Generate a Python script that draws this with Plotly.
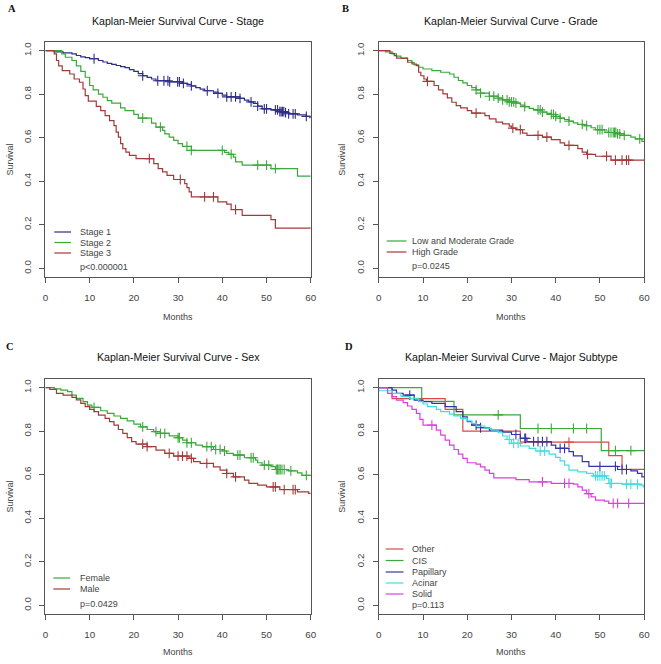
import numpy as np
import plotly.graph_objects as go

# ---------------- DATA ----------------
months_ticks = [0, 10, 20, 30, 40, 50, 60]
surv_ticks = [0.0, 0.2, 0.4, 0.6, 0.8, 1.0]
end_time = 60

# Panel A - Stage
stage1_t = [2, 4, 6, 7, 8, 9, 10, 12, 13, 14, 15, 16, 17, 18, 19, 20, 21, 22, 23, 24, 25, 28, 31, 32, 33, 34, 35, 36, 38, 39, 40, 41, 44, 45, 46, 47, 48, 49, 51, 53, 54, 55, 57, 59, 59.8]
stage1_s = [0.995, 0.99, 0.985, 0.978, 0.972, 0.968, 0.963, 0.955, 0.948, 0.942, 0.937, 0.932, 0.927, 0.922, 0.913, 0.905, 0.895, 0.885, 0.877, 0.87, 0.862, 0.857, 0.85, 0.845, 0.838, 0.83, 0.823, 0.816, 0.81, 0.804, 0.796, 0.788, 0.781, 0.773, 0.765, 0.758, 0.745, 0.733, 0.728, 0.72, 0.715, 0.71, 0.705, 0.698, 0.692]
stage1_c = [11, 22, 25.4, 26.8, 27.7, 28.1, 29.9, 30.3, 31.2, 33, 36.6, 39, 41, 42, 43, 44, 46.5, 48, 49.5, 50, 52, 52.5, 53, 53.3, 53.6, 53.9, 54.3, 55, 56, 56.5, 59]

stage2_t = [3.7, 4.5, 6, 7, 8, 9, 10, 10.8, 12, 13, 14, 15, 17, 18, 20, 21, 24, 25, 26.5, 27, 28, 29, 30, 31, 33, 40.5, 41.5, 42.5, 43, 44.5, 51, 57]
stage2_s = [0.985, 0.97, 0.955, 0.93, 0.905, 0.878, 0.84, 0.82, 0.8, 0.786, 0.771, 0.759, 0.737, 0.725, 0.707, 0.69, 0.667, 0.649, 0.634, 0.618, 0.603, 0.588, 0.573, 0.56, 0.542, 0.533, 0.524, 0.511, 0.489, 0.474, 0.458, 0.424]
stage2_c = [22, 26, 32, 33, 40, 42, 48, 50, 52]

stage3_t = [2, 2.5, 3, 3.8, 5.5, 6.5, 7.7, 8.5, 9, 9.7, 11.5, 12.5, 13.5, 14.5, 15.5, 16, 16.5, 17, 17.5, 18.2, 19, 20.5, 24.5, 25.5, 26.5, 27.5, 29, 31.5, 32, 32.5, 33, 39, 41, 42, 44.5, 51, 52]
stage3_s = [0.985, 0.955, 0.93, 0.908, 0.893, 0.87, 0.855, 0.824, 0.794, 0.768, 0.744, 0.725, 0.702, 0.679, 0.656, 0.626, 0.603, 0.573, 0.55, 0.534, 0.519, 0.504, 0.481, 0.458, 0.443, 0.427, 0.408, 0.389, 0.371, 0.351, 0.328, 0.305, 0.295, 0.27, 0.243, 0.224, 0.185]
stage3_c = [23.5, 30.5, 36, 38, 43]

# Panel B - Grade
lowmod_t = [1.5, 3, 4, 5, 6.5, 7.5, 8, 9, 10, 12, 14, 16, 17, 18, 19, 20, 21, 22, 23, 25, 27, 28, 29.5, 31, 32, 33, 34, 35, 37, 38, 39, 40, 41, 42, 43, 44, 45, 46.5, 48, 49, 51, 52, 54, 55.5, 57, 58, 59.5]
lowmod_s = [0.995, 0.985, 0.975, 0.965, 0.955, 0.945, 0.935, 0.924, 0.916, 0.908, 0.901, 0.893, 0.878, 0.863, 0.852, 0.84, 0.83, 0.82, 0.805, 0.791, 0.782, 0.774, 0.765, 0.759, 0.75, 0.743, 0.735, 0.728, 0.718, 0.712, 0.707, 0.698, 0.69, 0.683, 0.676, 0.668, 0.661, 0.655, 0.646, 0.637, 0.631, 0.624, 0.618, 0.611, 0.603, 0.595, 0.583]
lowmod_c = [22, 23, 25, 26, 27, 28, 29, 29.5, 30, 30.5, 31, 33, 36, 36.5, 37, 39, 39.5, 40, 41, 43, 46, 47, 49.5, 50, 50.5, 52, 52.5, 53, 53.3, 53.6, 54, 54.5, 55.5, 59]

high_t = [2.5, 3.5, 4, 6.5, 7.5, 8.5, 9, 9.5, 10.2, 10.8, 12.5, 13.5, 14.5, 15.5, 16.5, 17.5, 18.5, 20, 21, 24, 25, 26.5, 28, 29.5, 30, 31, 32.5, 33.5, 37, 39, 41, 42, 45, 46, 47, 49, 52.5]
high_s = [0.988, 0.977, 0.966, 0.947, 0.939, 0.931, 0.901, 0.885, 0.87, 0.859, 0.84, 0.82, 0.802, 0.783, 0.763, 0.748, 0.737, 0.725, 0.713, 0.702, 0.687, 0.672, 0.664, 0.653, 0.644, 0.637, 0.621, 0.611, 0.603, 0.591, 0.576, 0.565, 0.55, 0.534, 0.524, 0.515, 0.497]
high_c = [11, 22, 30.3, 32, 36, 38, 43, 47.2, 51.5, 53.5, 55, 56, 56.5]

# Panel C - Sex
female_t = [2, 3.5, 5, 6, 7, 8.5, 9.5, 10.5, 12.5, 14, 15.5, 17, 18.5, 20, 21.5, 23, 24.5, 26, 28, 30, 31, 32, 34, 35.5, 38, 40, 41, 42.5, 45, 47.5, 48, 49, 51, 52, 55, 57, 58]
female_s = [0.995, 0.989, 0.982, 0.966, 0.951, 0.936, 0.92, 0.91, 0.894, 0.882, 0.87, 0.859, 0.848, 0.833, 0.82, 0.808, 0.798, 0.79, 0.779, 0.77, 0.759, 0.747, 0.736, 0.729, 0.716, 0.709, 0.698, 0.69, 0.678, 0.667, 0.655, 0.644, 0.637, 0.624, 0.618, 0.609, 0.597]
female_c = [11, 22, 25, 26, 27, 30, 30.3, 32, 33, 36.5, 37.5, 38.5, 39.5, 40.5, 43.5, 44, 46.5, 47, 49.5, 50.5, 52.2, 52.5, 52.8, 53.1, 53.5, 54, 55.5, 59]

male_t = [1, 2.5, 4, 6, 7, 8, 9, 10, 11, 12, 13.5, 14.5, 15.5, 16.5, 17.5, 18.5, 19.5, 20.5, 23, 25, 27, 29, 32.5, 33.5, 35, 38, 39.5, 41, 42.5, 45, 46, 48, 50, 53, 57, 59.5]
male_s = [0.992, 0.974, 0.966, 0.956, 0.944, 0.928, 0.913, 0.9, 0.89, 0.874, 0.859, 0.844, 0.828, 0.808, 0.79, 0.771, 0.752, 0.741, 0.729, 0.713, 0.698, 0.686, 0.675, 0.66, 0.652, 0.636, 0.621, 0.606, 0.59, 0.575, 0.56, 0.552, 0.544, 0.532, 0.521, 0.514]
male_c = [22, 23, 28, 30, 31, 32, 33, 36.5, 41, 43, 51.5, 52, 54, 56, 56.5]

# Panel D - Major subtype
other_t = [3, 15, 19, 32, 52, 55]
other_s = [0.95, 0.9, 0.8, 0.75, 0.6875, 0.625]
other_c = [43]

cis_t = [9.7, 17, 32, 50.3]
cis_s = [0.9375, 0.875, 0.8125, 0.711]
cis_c = [27, 36, 39, 44, 47, 53.5, 57]

papillary_t = [3, 4, 5.5, 8, 10, 12, 15, 17.5, 19, 20, 21, 23, 25, 28, 30, 32, 33.5, 39, 40, 43, 44, 46, 47.5, 54, 57, 58.5, 59.5]
papillary_s = [0.989, 0.974, 0.966, 0.943, 0.936, 0.928, 0.913, 0.89, 0.866, 0.844, 0.828, 0.816, 0.805, 0.796, 0.785, 0.767, 0.752, 0.736, 0.721, 0.706, 0.687, 0.66, 0.638, 0.624, 0.618, 0.606, 0.59]
papillary_c = [7, 22, 23, 31, 33, 33.2, 35, 36, 37, 38, 41, 42, 50, 53.5, 55, 56]

acinar_t = [0, 3, 5, 7, 9, 10, 11, 13, 14, 16, 17, 18.5, 20, 21, 22, 24, 25.5, 27, 28, 29, 30, 32, 34, 35.5, 38.5, 40, 41, 42, 43, 45, 47, 48.5, 51.5, 52, 55, 59, 59.8]
acinar_s = [0.986, 0.974, 0.959, 0.951, 0.936, 0.925, 0.913, 0.9, 0.89, 0.879, 0.87, 0.859, 0.848, 0.836, 0.824, 0.813, 0.805, 0.793, 0.778, 0.762, 0.744, 0.732, 0.721, 0.709, 0.695, 0.68, 0.664, 0.644, 0.621, 0.613, 0.606, 0.595, 0.583, 0.56, 0.557, 0.552, 0.544]
acinar_c = [29.5, 30.5, 31.5, 36.5, 37.5, 49, 49.5, 50, 50.5, 51, 52.3, 52.6, 56, 57, 58.5]

solid_t = [2, 3, 4, 5.5, 6.5, 7.5, 8.5, 9.3, 10, 13, 14, 15, 16, 17, 18, 19, 20, 22, 23, 24, 25, 26, 31, 34, 39, 44, 45, 46, 47, 48, 49, 51, 52]
solid_s = [0.974, 0.959, 0.943, 0.931, 0.916, 0.9, 0.882, 0.854, 0.828, 0.805, 0.782, 0.759, 0.736, 0.716, 0.695, 0.675, 0.655, 0.649, 0.636, 0.621, 0.606, 0.586, 0.578, 0.567, 0.56, 0.557, 0.544, 0.529, 0.513, 0.498, 0.483, 0.479, 0.468]
solid_c = [12, 37, 42, 43, 47.5, 53, 54, 56.5]

titles = ["Kaplan-Meier Survival Curve - Stage", "Kaplan-Meier Survival Curve - Grade",
          "Kaplan-Meier Survival Curve - Sex", "Kaplan-Meier Survival Curve - Major Subtype"]
panel_letters = ["A", "B", "C", "D"]
p_values = ["p<0.000001", "p=0.0245", "p=0.0429", "p=0.113"]

# ---------------- STYLE ----------------
W, H = 661, 664
FONT = "Liberation Sans, Arial, sans-serif"
GREEN = "#3aa83a"
DARKRED = "#a33a3a"

panels = [
    dict(box=(43, 312, 42, 277), title_y=21, months_y=317, surv_x=7, letter=(9, 8),
         legend=dict(x0=52, x1=69, tx=76, rows=[232, 242.5, 253], py=267),
         curves=[("Stage 1", stage1_t, stage1_s, stage1_c, "#2e2e85"),
                 ("Stage 2", stage2_t, stage2_s, stage2_c, GREEN),
                 ("Stage 3", stage3_t, stage3_s, stage3_c, DARKRED)]),
    dict(box=(381, 650, 42, 277), title_y=21, months_y=317, surv_x=343, letter=(347, 8),
         legend=dict(x0=389, x1=409, tx=413, rows=[241, 252], py=266),
         curves=[("Low and Moderate Grade", lowmod_t, lowmod_s, lowmod_c, GREEN),
                 ("High Grade", high_t, high_s, high_c, DARKRED)]),
    dict(box=(43, 312, 379, 614), title_y=357, months_y=652, surv_x=7, letter=(7, 346),
         legend=dict(x0=51, x1=68, tx=76, rows=[578, 589], py=604),
         curves=[("Female", female_t, female_s, female_c, GREEN),
                 ("Male", male_t, male_s, male_c, DARKRED)]),
    dict(box=(381, 650, 379, 614), title_y=357, months_y=652, surv_x=343, letter=(351, 346),
         legend=dict(x0=388, x1=406, tx=413, rows=[549, 560.5, 572, 583, 594], py=605),
         curves=[("Other", other_t, other_s, other_c, "#d94848"),
                 ("CIS", cis_t, cis_s, cis_c, GREEN),
                 ("Papillary", papillary_t, papillary_s, papillary_c, "#3434a8"),
                 ("Acinar", acinar_t, acinar_s, acinar_c, "#3fdede"),
                 ("Solid", solid_t, solid_s, solid_c, "#dd3fdd")]),
]


def px(x):
    return x / W


def py(y):
    return 1 - y / H


def surv_at(times, surv, t):
    times = np.asarray(times, float)
    surv = np.concatenate([[1.0], np.asarray(surv, float)])
    idx = np.searchsorted(times, np.asarray(t, float), side="right")
    return surv[idx]


fig = go.Figure()
annotations = []
shapes = []

for i, p in enumerate(panels):
    n = i + 1
    xa = "x" if n == 1 else f"x{n}"
    ya = "y" if n == 1 else f"y{n}"
    x0, x1, y0, y1 = p["box"]
    ax = dict(domain=[px(x0), px(x1)], range=[0, 60], tickvals=months_ticks,
              showline=True, mirror=True, linecolor="#555", linewidth=1,
              ticks="outside", ticklen=5, tickcolor="#555", tickwidth=1,
              showgrid=False, zeroline=False, ticklabelstandoff=6,
              ticklabeloverflow="allow",
              tickfont=dict(family=FONT, size=9.8, color="#444"),
              anchor=ya, fixedrange=True)
    ay = dict(domain=[py(y1), py(y0)], range=[-0.04, 1.04], tickvals=surv_ticks,
              tickformat=".1f", tickangle=-90,
              showline=True, mirror=True, linecolor="#555", linewidth=1,
              ticks="outside", ticklen=5, tickcolor="#555", tickwidth=1,
              showgrid=False, zeroline=False, ticklabelstandoff=5,
              tickfont=dict(family=FONT, size=9.8, color="#444"),
              anchor=xa, fixedrange=True)
    fig.layout["xaxis" if n == 1 else f"xaxis{n}"] = ax
    fig.layout["yaxis" if n == 1 else f"yaxis{n}"] = ay

    for name, t, s, c, col in p["curves"]:
        xs = [0] + list(t) + [end_time]
        ys = [1.0] + list(s) + [s[-1]]
        fig.add_trace(go.Scatter(x=xs, y=ys, mode="lines", line=dict(shape="hv", color=col, width=1.2),
                                 name=name, xaxis=xa, yaxis=ya, showlegend=False, hoverinfo="skip"))
        fig.add_trace(go.Scatter(x=c, y=surv_at(t, s, c), mode="markers",
                                 marker=dict(symbol="cross-thin", size=7, line=dict(color=col, width=1.1)),
                                 name=name + " censored", xaxis=xa, yaxis=ya, showlegend=False, hoverinfo="skip"))

    cx = (x0 + x1) / 2
    annotations.append(dict(text=titles[i], x=px(cx), y=py(p["title_y"]), xref="paper", yref="paper",
                            showarrow=False, xanchor="center", yanchor="middle",
                            font=dict(family=FONT, size=10.6, color="#111")))
    annotations.append(dict(text="Months", x=px(cx), y=py(p["months_y"]), xref="paper", yref="paper",
                            showarrow=False, xanchor="center", yanchor="middle",
                            font=dict(family=FONT, size=9, color="#444")))
    annotations.append(dict(text="Survival", x=px(p["surv_x"]), y=py((y0 + y1) / 2), xref="paper", yref="paper",
                            showarrow=False, xanchor="center", yanchor="middle", textangle=-90,
                            font=dict(family=FONT, size=9, color="#444")))
    lx, ly = p["letter"]
    annotations.append(dict(text="<b>" + panel_letters[i] + "</b>", x=px(lx), y=py(ly), xref="paper", yref="paper",
                            showarrow=False, xanchor="center", yanchor="middle",
                            font=dict(family="Liberation Serif, Times New Roman, serif", size=10.5, color="#111")))
    lg = p["legend"]
    for (name, t, s, c, col), ry in zip(p["curves"], lg["rows"]):
        shapes.append(dict(type="line", xref="paper", yref="paper", x0=px(lg["x0"]), x1=px(lg["x1"]),
                           y0=py(ry), y1=py(ry), line=dict(color=col, width=1.2)))
        annotations.append(dict(text=name, x=px(lg["tx"]), y=py(ry), xref="paper", yref="paper",
                                showarrow=False, xanchor="left", yanchor="middle",
                                font=dict(family=FONT, size=9, color="#444")))
    annotations.append(dict(text=p_values[i], x=px(lg["tx"]), y=py(lg["py"]), xref="paper", yref="paper",
                            showarrow=False, xanchor="left", yanchor="middle",
                            font=dict(family=FONT, size=9, color="#444")))

fig.update_layout(width=W, height=H, margin=dict(l=0, r=0, t=0, b=0),
                  paper_bgcolor="white", plot_bgcolor="white",
                  annotations=annotations, shapes=shapes, showlegend=False,
                  font=dict(family=FONT))

fig.write_html("out.html", config={"displayModeBar": False, "staticPlot": True},
               post_script="document.body.style.margin='0';document.body.style.padding='0';"
                           "document.documentElement.style.overflow='hidden';")
